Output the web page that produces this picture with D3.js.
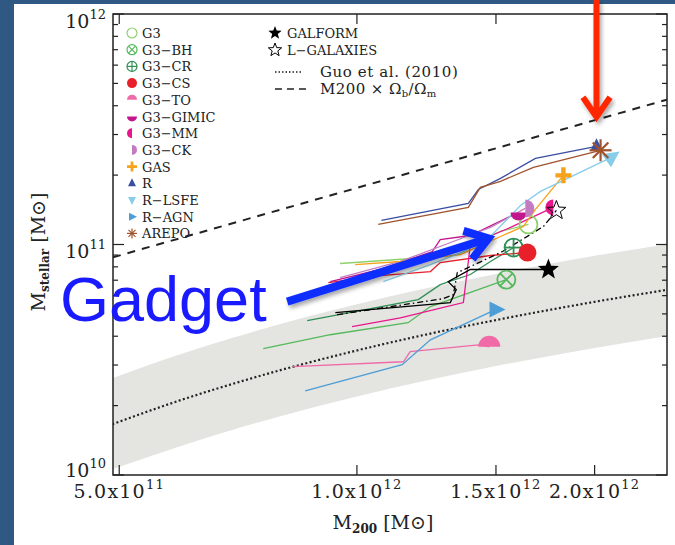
<!DOCTYPE html>
<html><head><meta charset="utf-8">
<script src="https://cdn.jsdelivr.net/npm/d3@7"></script>
<style>
html,body{margin:0;padding:0;background:#2f5883;}
svg{display:block;}
</style></head><body>
<svg id="chart" width="675" height="545"></svg>
<script>
// ---------- halo growth tracks: M200 and stellar mass [Msun], early -> z=0 ----------
const g3M200      = [0.952e12, 1.275e12, 1.392e12, 1.520e12, 1.649e12];
const g3Mstar     = [8.27e10, 8.87e10, 1.000e11, 1.139e11, 1.222e11];
const g3bhM200    = [0.761e12, 0.925e12, 1.161e12, 1.239e12, 1.546e12];
const g3bhMstar   = [3.53e10, 4.06e10, 4.58e10, 5.38e10, 7.04e10];
const g3crM200    = [0.865e12, 1.196e12, 1.275e12, 1.392e12, 1.476e12, 1.579e12];
const g3crMstar   = [4.67e10, 5.77e10, 6.70e10, 7.41e10, 8.44e10, 9.70e10];
const g3csM200    = [0.920e12, 1.070e12, 1.239e12, 1.275e12, 1.476e12, 1.644e12];
const g3csMstar   = [6.83e10, 7.33e10, 7.63e10, 8.35e10, 8.96e10, 9.23e10];
const g3toM200    = [0.830e12, 1.145e12, 1.168e12, 1.425e12, 1.471e12];
const g3toMstar   = [2.95e10, 3.10e10, 3.43e10, 3.67e10, 3.60e10];
const gimicM200   = [0.925e12, 1.070e12, 1.246e12, 1.275e12, 1.392e12, 1.602e12];
const gimicMstar  = [6.90e10, 7.79e10, 9.32e10, 1.051e11, 1.094e11, 1.377e11];
const g3mmM200    = [0.986e12, 1.135e12, 1.364e12, 1.380e12, 1.392e12, 1.565e12, 1.773e12];
const g3mmMstar   = [4.40e10, 4.81e10, 5.60e10, 7.79e10, 1.000e11, 1.186e11, 1.448e11];
const g3ckM200    = [0.952e12, 1.135e12, 1.294e12, 1.476e12, 1.634e12];
const g3ckMstar   = [7.19e10, 8.44e10, 1.000e11, 1.186e11, 1.434e11];
const gasM200     = [0.995e12, 1.135e12, 1.352e12, 1.520e12, 1.625e12, 1.683e12, 1.826e12];
const gasMstar    = [8.18e10, 8.44e10, 9.05e10, 1.083e11, 1.198e11, 1.420e11, 1.995e11];
const rM200       = [1.074e12, 1.384e12, 1.425e12, 1.520e12, 1.683e12, 2.011e12];
const rMstar      = [1.272e11, 1.508e11, 1.734e11, 1.936e11, 2.365e11, 2.668e11];
const rlsfeM200   = [1.080e12, 1.239e12, 1.364e12, 1.476e12, 1.611e12, 1.708e12, 2.100e12];
const rlsfeMstar  = [6.90e10, 8.18e10, 9.32e10, 1.083e11, 1.477e11, 1.700e11, 2.389e11];
const ragnM200    = [0.860e12, 1.141e12, 1.239e12, 1.498e12];
const ragnMstar   = [2.32e10, 3.01e10, 3.86e10, 5.22e10];
const arepoM200   = [1.064e12, 1.384e12, 1.433e12, 1.520e12, 1.673e12, 2.035e12];
const arepoMstar  = [1.222e11, 1.448e11, 1.769e11, 1.879e11, 2.162e11, 2.563e11];
const galformM200 = [0.939e12, 1.313e12, 1.336e12, 1.305e12, 1.392e12, 1.748e12];
const galformMstar= [5.06e10, 5.60e10, 6.37e10, 6.90e10, 7.79e10, 7.79e10];
const lgalM200    = [0.944e12, 1.286e12, 1.325e12, 1.340e12, 1.529e12, 1.723e12, 1.789e12];
const lgalMstar   = [4.96e10, 5.82e10, 6.06e10, 7.55e10, 9.32e10, 1.198e11, 1.405e11];

// abundance-matching relation (Guo et al. 2010) with its 0.2 dex scatter band
const guoM200  = [4.9e11, 6e11, 7e11, 8e11, 1e12, 1.2e12, 1.5e12, 2e12, 2.5e12];
const guoMstar = [1.66e10, 2.12e10, 2.50e10, 2.85e10, 3.47e10, 4.01e10, 4.70e10, 5.64e10, 6.40e10];
const guoUpper = [2.63e10, 3.36e10, 3.96e10, 4.52e10, 5.50e10, 6.36e10, 7.45e10, 8.94e10, 1.01e11];
const guoLower = [1.06e10, 1.34e10, 1.58e10, 1.80e10, 2.19e10, 2.53e10, 2.97e10, 3.56e10, 4.04e10];

// universal baryon fraction line, M200 x Omega_b/Omega_m
const baryonM200  = [4.91e11, 2.47e12];
const baryonMstar = [8.8e10, 4.25e11];

// axis ticks
const xTickValues = [5e11, 1e12, 1.5e12, 2e12];
const xTickLabels = [["5.0x10","11"], ["1.0x10","12"], ["1.5x10","12"], ["2.0x10","12"]];
const yTickValues = [1e10, 1e11, 1e12];
const yTickLabels = [["10","10"], ["10","11"], ["10","12"]];

// annotation arrow (M200, Mstar)
const gadgetArrowM200  = [0.816e12, 1.467e12];
const gadgetArrowMstar = [5.65e10, 1.062e11];

// ---------- series table ----------
const series = [
  {name:"G3",       m:g3M200,   s:g3Mstar,   color:"#8fd16c", marker:"circleOpen"},
  {name:"G3\u2212BH",    m:g3bhM200, s:g3bhMstar, color:"#55b95c", marker:"circleX"},
  {name:"G3\u2212CR",    m:g3crM200, s:g3crMstar, color:"#2f8f55", marker:"circlePlus"},
  {name:"G3\u2212CS",    m:g3csM200, s:g3csMstar, color:"#e8202a", marker:"circle"},
  {name:"G3\u2212TO",    m:g3toM200, s:g3toMstar, color:"#f06aa8", marker:"halfTop"},
  {name:"G3\u2212GIMIC", m:gimicM200,s:gimicMstar,color:"#c4168c", marker:"halfBottom"},
  {name:"G3\u2212MM",    m:g3mmM200, s:g3mmMstar, color:"#e8168c", marker:"halfLeft"},
  {name:"G3\u2212CK",    m:g3ckM200, s:g3ckMstar, color:"#c47cc0", marker:"halfRight"},
  {name:"GAS",      m:gasM200,  s:gasMstar,  color:"#f7a21b", marker:"plus"},
  {name:"R",        m:rM200,    s:rMstar,    color:"#3a4ea2", marker:"triUp"},
  {name:"R\u2212LSFE",   m:rlsfeM200,s:rlsfeMstar,color:"#86cdea", marker:"triDown"},
  {name:"R\u2212AGN",    m:ragnM200, s:ragnMstar, color:"#4d9dd6", marker:"triRight"},
  {name:"AREPO",    m:arepoM200,s:arepoMstar,color:"#a0532d", marker:"asterisk"}
];
const sams = [
  {name:"GALFORM",       m:galformM200, s:galformMstar, color:"#000", marker:"star",     dash:null},
  {name:"L\u2212GALAXIES", m:lgalM200,  s:lgalMstar,    color:"#000", marker:"starOpen", dash:"6,3,1.5,3"}
];

// ---------- layout ----------
const W = 675, H = 545;
const P = {left:113, right:667, top:14, bottom:475};
const svg = d3.select("#chart");
const serif = "'DejaVu Serif', serif";
const ink = "#222";

const x = d3.scaleLog().domain([4.91e11, 2.47e12]).range([P.left, P.right]);
const y = d3.scaleLog().domain([1e10, 1e12]).range([P.bottom, P.top]);

// white slide panel
svg.append("rect").attr("x",14).attr("y",4).attr("width",W-14).attr("height",H-4).attr("fill","#fff");

const defs = svg.append("defs");
defs.append("clipPath").attr("id","plotClip").append("rect")
  .attr("x",P.left).attr("y",P.top).attr("width",P.right-P.left).attr("height",P.bottom-P.top);
const f = defs.append("filter").attr("id","shadow").attr("x","-20%").attr("y","-20%").attr("width","140%").attr("height","160%");
f.append("feDropShadow").attr("dx",2).attr("dy",3).attr("stdDeviation",2)
  .attr("flood-color","#000").attr("flood-opacity",0.35);

const plotG = svg.append("g").attr("clip-path","url(#plotClip)");

// scatter band and Guo relation
const band = d3.area().x(d=>x(d[0])).y0(d=>y(d[1])).y1(d=>y(d[2])).curve(d3.curveMonotoneX);
plotG.append("path").datum(d3.zip(guoM200, guoLower, guoUpper)).attr("d", band).attr("fill","#e4e4e0");
const curve = d3.line().x(d=>x(d[0])).y(d=>y(d[1])).curve(d3.curveMonotoneX);
plotG.append("path").datum(d3.zip(guoM200, guoMstar)).attr("d", curve)
  .attr("fill","none").attr("stroke",ink).attr("stroke-width",2.2).attr("stroke-dasharray","2,2.4");
plotG.append("path").datum(d3.zip(baryonM200, baryonMstar)).attr("d", d3.line().x(d=>x(d[0])).y(d=>y(d[1])))
  .attr("fill","none").attr("stroke",ink).attr("stroke-width",2).attr("stroke-dasharray","8,7");

// ---------- markers ----------
function starPath(r){
  const p=[];
  for(let i=0;i<10;i++){const a=-Math.PI/2+i*Math.PI/5, rr=i%2?r*0.42:r; p.push([rr*Math.cos(a), rr*Math.sin(a)]);}
  return "M"+p.map(q=>q[0].toFixed(2)+","+q[1].toFixed(2)).join("L")+"Z";
}
function drawMarker(g, type, color, r){
  const sw = Math.max(1.2, r/5);
  switch(type){
    case "circleOpen":
      g.append("circle").attr("r",r).attr("fill","none").attr("stroke",color).attr("stroke-width",sw); break;
    case "circle":
      g.append("circle").attr("r",r).attr("fill",color); break;
    case "circleX": case "circlePlus": {
      g.append("circle").attr("r",r).attr("fill","none").attr("stroke",color).attr("stroke-width",sw);
      const k = type==="circleX" ? r*0.7 : r;
      const segs = type==="circleX" ? [[-k,-k,k,k],[-k,k,k,-k]] : [[-k,0,k,0],[0,-k,0,k]];
      segs.forEach(s=>g.append("line").attr("x1",s[0]).attr("y1",s[1]).attr("x2",s[2]).attr("y2",s[3])
        .attr("stroke",color).attr("stroke-width",sw));
      break; }
    case "halfTop":    g.append("path").attr("d",`M${-r},0A${r},${r} 0 0 1 ${r},0Z`).attr("fill",color); break;
    case "halfBottom": g.append("path").attr("d",`M${-r},0A${r},${r} 0 0 0 ${r},0Z`).attr("fill",color); break;
    case "halfLeft":   g.append("path").attr("d",`M0,${-r}A${r},${r} 0 0 0 0,${r}Z`).attr("fill",color); break;
    case "halfRight":  g.append("path").attr("d",`M0,${-r}A${r},${r} 0 0 1 0,${r}Z`).attr("fill",color); break;
    case "plus":
      g.append("path").attr("d",`M${-r},0H${r}M0,${-r}V${r}`).attr("stroke",color).attr("stroke-width",r*0.55); break;
    case "triUp":
      g.append("path").attr("d",`M0,${-r}L${r*0.8},${r*0.6}L${-r*0.8},${r*0.6}Z`).attr("fill",color); break;
    case "triDown":
      g.append("path").attr("d",`M0,${r}L${r*0.8},${-r*0.6}L${-r*0.8},${-r*0.6}Z`).attr("fill",color); break;
    case "triRight":
      g.append("path").attr("d",`M${r},0L${-r*0.6},${-r*0.8}L${-r*0.6},${r*0.8}Z`).attr("fill",color); break;
    case "asterisk":
      for(let i=0;i<4;i++){const a=i*Math.PI/4;
        g.append("line").attr("x1",-r*Math.cos(a)).attr("y1",-r*Math.sin(a)).attr("x2",r*Math.cos(a)).attr("y2",r*Math.sin(a))
          .attr("stroke",color).attr("stroke-width",sw);}
      break;
    case "star":     g.append("path").attr("d",starPath(r)).attr("fill",color); break;
    case "starOpen": g.append("path").attr("d",starPath(r)).attr("fill","none").attr("stroke",color).attr("stroke-width",1); break;
  }
}

// ---------- tracks ----------
const track = d3.line().x(d=>x(d[0])).y(d=>y(d[1]));
const allTracks = series.concat(sams);
allTracks.forEach(t=>{
  plotG.append("path").datum(d3.zip(t.m, t.s)).attr("d", track)
    .attr("fill","none").attr("stroke",t.color).attr("stroke-width",1.3)
    .attr("stroke-dasharray", t.dash || null);
});
const plotMarkerSize = {halfTop:11, halfBottom:8, halfLeft:8, halfRight:9, plus:8, triUp:8, triDown:10, triRight:10, asterisk:11, star:11, starOpen:10};
allTracks.forEach(t=>{
  const n = t.m.length-1;
  const g = plotG.append("g").attr("transform",`translate(${x(t.m[n])},${y(t.s[n])})`);
  if(t.marker==="triDown") g.attr("transform", `translate(${x(t.m[n])},${y(t.s[n])}) rotate(-125)`);
  drawMarker(g, t.marker, t.color, plotMarkerSize[t.marker] || 9);
});

// ---------- frame and ticks ----------
svg.append("rect").attr("x",P.left).attr("y",P.top).attr("width",P.right-P.left).attr("height",P.bottom-P.top)
  .attr("fill","none").attr("stroke",ink).attr("stroke-width",1.5);
const tickG = svg.append("g").attr("stroke",ink).attr("stroke-width",1.2);
const yMinor = [];
[1e10,1e11].forEach(d=>{for(let k=2;k<=9;k++) yMinor.push(k*d);});
yTickValues.forEach(v=>{
  tickG.append("line").attr("x1",P.left).attr("x2",P.left+11).attr("y1",y(v)).attr("y2",y(v));
  tickG.append("line").attr("x1",P.right).attr("x2",P.right-11).attr("y1",y(v)).attr("y2",y(v));
});
yMinor.forEach(v=>{
  tickG.append("line").attr("x1",P.left).attr("x2",P.left+5).attr("y1",y(v)).attr("y2",y(v));
  tickG.append("line").attr("x1",P.right).attr("x2",P.right-5).attr("y1",y(v)).attr("y2",y(v));
});
xTickValues.forEach(v=>{
  tickG.append("line").attr("x1",x(v)).attr("x2",x(v)).attr("y1",P.bottom).attr("y2",P.bottom-10);
  tickG.append("line").attr("x1",x(v)).attr("x2",x(v)).attr("y1",P.top).attr("y2",P.top+10);
});

// tick labels
xTickValues.forEach((v,i)=>{
  const t = svg.append("text").attr("x",x(v)).attr("y",498).attr("text-anchor","middle")
    .attr("font-family",serif).attr("font-size",19).attr("letter-spacing",1.2).attr("fill",ink);
  t.append("tspan").text(xTickLabels[i][0]);
  t.append("tspan").attr("dy",-9).attr("font-size",13).text(xTickLabels[i][1]);
});
const yLabelShift = {0:2, 1:13, 2:14};
yTickValues.forEach((v,i)=>{
  const t = svg.append("text").attr("x",106).attr("y",y(v)+yLabelShift[i]).attr("text-anchor","end")
    .attr("font-family",serif).attr("font-size",19).attr("fill",ink);
  t.append("tspan").text(yTickLabels[i][0]);
  t.append("tspan").attr("dy",-9).attr("font-size",13).text(yTickLabels[i][1]);
});

// axis titles
const xt = svg.append("text").attr("x",383).attr("y",529).attr("text-anchor","middle")
  .attr("font-family",serif).attr("font-size",19).attr("fill",ink);
xt.append("tspan").text("M");
xt.append("tspan").attr("dy",4).attr("font-size",12).attr("font-weight","bold").text("200");
xt.append("tspan").attr("dy",-4).text(" [M\u2299]");
const yt = svg.append("text").attr("transform","translate(45,252) rotate(-90)").attr("text-anchor","middle")
  .attr("font-family",serif).attr("font-size",19).attr("fill",ink);
yt.append("tspan").text("M");
yt.append("tspan").attr("dy",4).attr("font-size",12).attr("font-weight","bold").text("stellar");
yt.append("tspan").attr("dy",-4).text(" [M\u2299]");

// ---------- legends ----------
const legG = svg.append("g");
series.forEach((s,i)=>{
  const cy = 33 + i*16.7;
  const g = legG.append("g").attr("transform",`translate(132,${cy})`);
  drawMarker(g, s.marker, s.color, 5);
  legG.append("text").attr("x",142).attr("y",cy+5).attr("font-family",serif).attr("font-size",13)
    .attr("fill",ink).text(s.name);
});
sams.forEach((s,i)=>{
  const cy = 33 + i*17;
  drawMarker(legG.append("g").attr("transform",`translate(275,${cy})`), s.marker, s.color, 7);
  legG.append("text").attr("x",287).attr("y",cy+5).attr("font-family",serif).attr("font-size",13)
    .attr("fill",ink).text(s.name);
});
legG.append("line").attr("x1",275).attr("x2",301).attr("y1",72).attr("y2",72)
  .attr("stroke",ink).attr("stroke-width",1.5).attr("stroke-dasharray","1.5,2");
legG.append("text").attr("x",320).attr("y",77).attr("font-family",serif).attr("font-size",15)
  .attr("letter-spacing",0.6).attr("fill",ink).text("Guo et al. (2010)");
legG.append("line").attr("x1",275).attr("x2",309).attr("y1",89).attr("y2",89)
  .attr("stroke",ink).attr("stroke-width",1.5).attr("stroke-dasharray","7,5");
const bt = legG.append("text").attr("x",320).attr("y",94).attr("font-family",serif).attr("font-size",15)
  .attr("letter-spacing",0.4).attr("fill",ink);
bt.append("tspan").text("M200 \u00d7 \u03a9");
bt.append("tspan").attr("dy",3).attr("font-size",10).text("b");
bt.append("tspan").attr("dy",-3).text("/\u03a9");
bt.append("tspan").attr("dy",3).attr("font-size",10).text("m");

// ---------- annotations ----------
function arrow(x1,y1,x2,y2,color,width,head){
  const g = svg.append("g").attr("filter","url(#shadow)");
  const a = Math.atan2(y2-y1, x2-x1);
  const back = a+Math.PI, spread = 0.6;
  const p1 = [x2+head*Math.cos(back+spread), y2+head*Math.sin(back+spread)];
  const p2 = [x2+head*Math.cos(back-spread), y2+head*Math.sin(back-spread)];
  g.append("line").attr("x1",x1).attr("y1",y1).attr("x2",x2-2*Math.cos(a)).attr("y2",y2-2*Math.sin(a))
    .attr("stroke",color).attr("stroke-width",width);
  g.append("path").attr("d",`M${p1}L${x2},${y2}L${p2}`).attr("fill","none")
    .attr("stroke",color).attr("stroke-width",width).attr("stroke-linejoin","miter").attr("stroke-linecap","butt");
}
arrow(x(gadgetArrowM200[0]), y(gadgetArrowMstar[0]), x(gadgetArrowM200[1]), y(gadgetArrowMstar[1]), "#0a2dff", 8, 26);
svg.append("text").attr("x",60).attr("y",321).attr("font-family","'Liberation Sans', Arial, sans-serif")
  .attr("font-size",63).attr("fill","#1a1aff").text("Gadget");
// red pointer onto the baryon-fraction line at the R / AREPO halo mass
arrow(x(rM200[rM200.length-1]), 0, x(rM200[rM200.length-1]), 117, "#ff2600", 6, 24);
</script>
</body></html>
